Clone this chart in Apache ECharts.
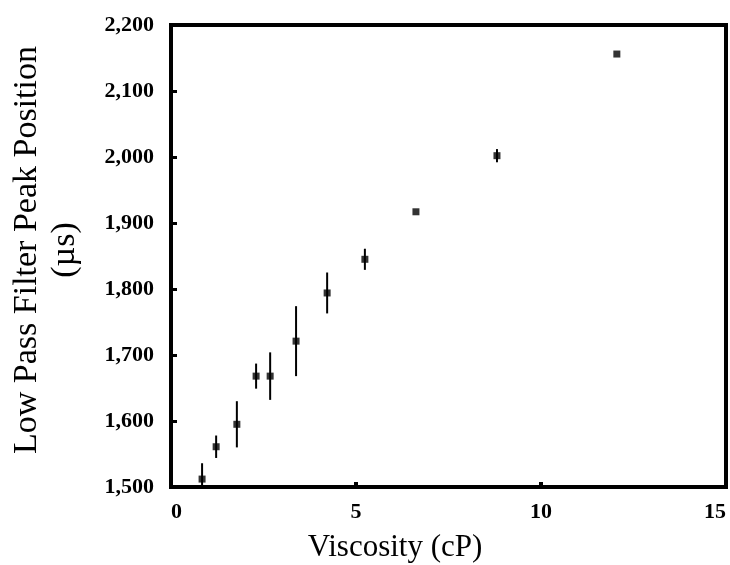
<!DOCTYPE html>
<html>
<head>
<meta charset="utf-8">
<script src="https://cdn.jsdelivr.net/npm/echarts@6/dist/echarts.min.js"></script>
<style>html,body{margin:0;padding:0;background:#fff;}#c{width:730px;height:565px;}</style>
</head>
<body>
<div id="c"></div>
<script>
var viscosity = [0.84, 1.22, 1.78, 2.30, 2.68, 3.38, 4.22, 5.24, 6.62, 8.81, 12.05];
var peakPos   = [1512, 1561, 1595, 1668, 1668, 1721, 1794, 1845, 1917, 2002, 2156];
var peakErr   = [24, 17, 35, 19, 36, 53, 31, 16, 0, 10, 0];
var xTicks = [0, 5, 10, 15];
var yTicks = [1500, 1600, 1700, 1800, 1900, 2000, 2100, 2200];

var chart = echarts.init(document.getElementById('c'), null, {renderer: 'canvas'});
var points = viscosity.map(function (v, i) { return [v, peakPos[i]]; });
var bars = viscosity.map(function (v, i) { return [v, peakPos[i], peakErr[i]]; });
var serif = '"Liberation Serif", "Times New Roman", serif';

chart.setOption({
  backgroundColor: '#fff',
  animation: false,
  grid: {left: 171, right: 4, top: 25, bottom: 78, containLabel: false, outerBoundsMode: 'none',
    show: true, borderColor: '#000', borderWidth: 4, backgroundColor: 'transparent'},
  xAxis: {
    type: 'value', min: xTicks[0], max: xTicks[xTicks.length - 1], interval: 5,
    axisLine: {show: false},
    axisTick: {show: true, inside: true, length: 5, lineStyle: {color: '#000', width: 4}},
    splitLine: {show: false},
    axisLabel: {color: '#000', fontFamily: serif, fontWeight: 'bold', fontSize: 22, margin: 14,
      alignMinLabel: 'left', alignMaxLabel: 'right'}
  },
  yAxis: {
    type: 'value', min: yTicks[0], max: yTicks[yTicks.length - 1], interval: 100,
    axisLine: {show: false},
    axisTick: {show: true, inside: true, length: 6, lineStyle: {color: '#000', width: 3}},
    splitLine: {show: false},
    axisLabel: {color: '#000', fontFamily: serif, fontWeight: 'bold', fontSize: 22, margin: 17,
      formatter: function (v) { return v.toLocaleString('en-US'); }}
  },
  graphic: [
    {type: 'text', position: [395, 548], style: {text: 'Viscosity (cP)', fontFamily: serif, fontSize: 31, fill: '#000', textAlign: 'center', textVerticalAlign: 'middle'}},
    {type: 'text', position: [46, 250], rotation: Math.PI / 2, style: {text: 'Low Pass Filter Peak Position\n(\u00b5s)', fontFamily: serif, fontSize: 34, lineHeight: 38, fill: '#000', textAlign: 'center', textVerticalAlign: 'middle'}}
  ],
  series: [
    {
      type: 'custom', clip: true, data: bars,
      renderItem: function (params, api) {
        var x = api.value(0), y = api.value(1), e = api.value(2);
        var lo = api.coord([x, y - e]);
        var hi = api.coord([x, y + e]);
        return {type: 'line', shape: {x1: lo[0], y1: lo[1], x2: hi[0], y2: hi[1]}, style: {stroke: '#000', lineWidth: 2}};
      },
      z: 2
    },
    {
      type: 'scatter', data: points, symbol: 'rect', symbolSize: 7,
      itemStyle: {color: '#000'}, z: 3
    }
  ]
});
</script>
</body>
</html>
